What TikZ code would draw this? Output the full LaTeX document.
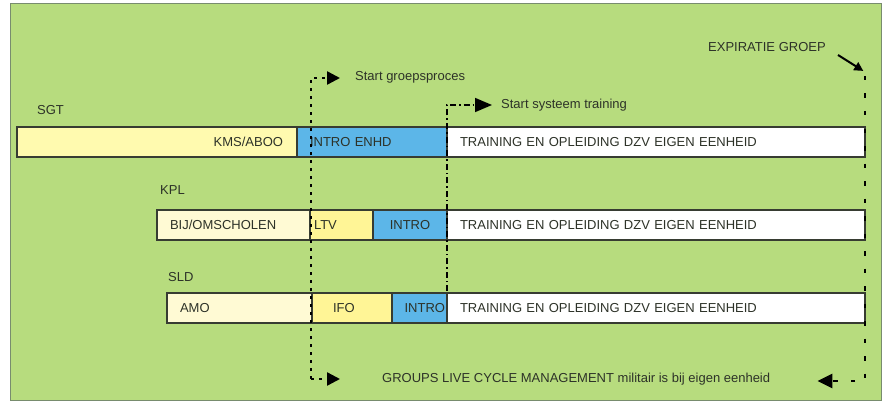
\documentclass[tikz,border=0pt]{standalone}
\usepackage{fontspec}
\setmainfont{Liberation Sans}
\usetikzlibrary{arrows.meta}
\pgfdeclarelayer{nodelayer}
\pgfdeclarelayer{edgelayer}
\pgfsetlayers{nodelayer,edgelayer,main}
\definecolor{frame green}{RGB}{183,220,126}
\definecolor{frame line}{RGB}{120,140,110}
\definecolor{sgt yellow}{RGB}{255,250,175}
\definecolor{pale yellow}{RGB}{255,250,212}
\definecolor{mid yellow}{RGB}{255,245,150}
\definecolor{intro blue}{RGB}{92,182,232}
\definecolor{bar line}{RGB}{55,60,50}
\definecolor{label text}{RGB}{45,50,40}
\tikzstyle{bar}=[draw=bar line, line width=1.2pt, minimum height=30pt, inner ysep=0pt, text=label text, font=\fontsize{13pt}{15pt}\selectfont]
\tikzstyle{bar left}=[style=bar, align=left]
\tikzstyle{bar right}=[style=bar, align=right]
\tikzstyle{none}=[inner sep=0pt, anchor=west, text=label text, font=\fontsize{13pt}{15pt}\selectfont]
\tikzstyle{dot edge}=[draw=black, line width=2.4pt, dash pattern=on 3pt off 5pt, -{Triangle[length=13pt, width=13pt]}]
\tikzstyle{dash dot edge}=[draw=black, line width=1.6pt, dash pattern=on 6pt off 3pt on 1.5pt off 3pt, -{Triangle[length=17pt, width=14pt]}]
\tikzstyle{end edge}=[draw=black, line width=2.6pt, dash pattern=on 4.5pt off 13pt, -{Triangle[length=15pt, width=14pt]}]
\tikzstyle{solid edge}=[draw=black, line width=2pt, -{Triangle[length=9pt, width=9pt]}]

\begin{document}
\begin{tikzpicture}[x=1pt, y=-1pt]
	\useasboundingbox (0, 0) rectangle (888, 401);
	\begin{pgfonlayer}{nodelayer}
		\filldraw [fill=frame green, draw=frame line, line width=1pt] (10, 4) rectangle (881, 400);
		% SGT
		\node [style=none] (0) at (37, 110) {SGT};
		\node [style=bar right, fill=sgt yellow, text width=252pt, inner xsep=14pt] (1) at (157, 142) {KMS/ABOO};
		\node [style=bar left, fill=intro blue, text width=124pt, inner xsep=13pt] (2) at (372, 142) {INTRO ENHD};
		\node [style=bar left, fill=white, text width=392pt, inner xsep=13pt] (3) at (656, 142) {TRAINING EN OPLEIDING DZV EIGEN EENHEID};
		% KPL
		\node [style=none] (4) at (160, 190) {KPL};
		\node [style=bar left, fill=pale yellow, text width=127pt, inner xsep=13pt] (5) at (233.5, 225) {BIJ/OMSCHOLEN};
		\node [style=bar left, fill=mid yellow, text width=55pt, inner xsep=4pt] (6) at (341.5, 225) {LTV};
		\node [style=bar, fill=intro blue, minimum width=74pt, inner xsep=0pt] (7) at (410, 225) {INTRO};
		\node [style=bar left, fill=white, text width=392pt, inner xsep=13pt] (8) at (656, 225) {TRAINING EN OPLEIDING DZV EIGEN EENHEID};
		% SLD
		\node [style=none] (9) at (168, 277) {SLD};
		\node [style=bar left, fill=pale yellow, text width=119pt, inner xsep=13pt] (10) at (239.5, 308) {AMO};
		\node [style=bar left, fill=mid yellow, text width=38pt, inner xsep=21pt] (11) at (352, 308) {IFO};
		\node [style=bar right, fill=intro blue, text width=51pt, inner xsep=2pt] (12) at (419.5, 308) {INTRO};
		\node [style=bar left, fill=white, text width=392pt, inner xsep=13pt] (13) at (656, 308) {TRAINING EN OPLEIDING DZV EIGEN EENHEID};
		% markers
		\node [style=none] (14) at (355, 77) {Start groepsproces};
		\node [style=none] (15) at (501, 105) {Start systeem training};
		\node [style=none] (16) at (708, 47) {EXPIRATIE GROEP};
		\node [style=none] (17) at (382, 379) {GROUPS LIVE CYCLE MANAGEMENT militair is bij eigen eenheid};
	\end{pgfonlayer}
	\begin{pgfonlayer}{edgelayer}
		\coordinate (a) at (311, 78);
		\coordinate (b) at (311, 379);
		\coordinate (c) at (447, 105);
		\coordinate (d) at (447, 291);
		\coordinate (e) at (865, 72);
		\coordinate (f) at (865, 381);
		\coordinate (g) at (838, 55);
		\draw [style=dot edge, shorten >=15pt] (b) -- (a) -- (a -| 14.west);
		\draw [style=dot edge, shorten >=42pt] (b) -- (b -| 17.west);
		\draw [style=dash dot edge, shorten >=9pt] (d) -- (c) -- (c -| 15.west);
		\draw [style=end edge, shorten >=47pt, dash phase=-4pt] (e) -- (f) -- (f -| 17.east);
		\draw [style=solid edge, shorten >=2pt] (g) -- (e);
	\end{pgfonlayer}
\end{tikzpicture}
\end{document}
